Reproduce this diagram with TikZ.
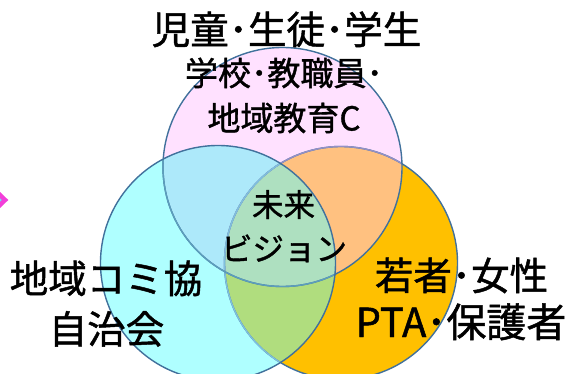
\documentclass[tikz,border=0pt]{standalone}
\usepackage{fontspec}
\setmainfont{Noto Sans CJK JP}[FakeBold=1.2]
\usetikzlibrary{shapes.geometric}
\definecolor{cTop}{HTML}{FFE1FF}
\definecolor{cLeft}{HTML}{AFFFFF}
\definecolor{cRight}{HTML}{FFC000}
\definecolor{cTL}{HTML}{ADE9FA}
\definecolor{cTR}{HTML}{FFC180}
\definecolor{cLR}{HTML}{B0DD7E}
\definecolor{cTri}{HTML}{AEE0C0}
\definecolor{cLine}{HTML}{41719C}
\definecolor{cLinePurp}{HTML}{9490C6}
\definecolor{cLineLB}{HTML}{7EC0DE}
\definecolor{cLineTeal}{HTML}{5C9EBC}
\definecolor{cMag}{HTML}{F23FD9}
\definecolor{cMarkIn}{HTML}{6FE3F0}
\tikzset{
  outline/.style={line width=1.4pt},
  biglbl/.style={inner sep=0pt, anchor=base, font=\fontsize{38.5}{46}\selectfont},
  midlbl/.style={inner sep=0pt, anchor=base, font=\fontsize{33}{40}\selectfont},
  ctrlbl/.style={inner sep=0pt, anchor=base, font=\fontsize{31.5}{38}\selectfont}
}
\def\topc{(282.5,167) circle[radius=119.5]}
\def\leftc{(218,263) circle[radius=117.5]}
\def\rightc{(341,263) circle[radius=116.5]}
\begin{document}
\begin{tikzpicture}[x=1pt,y=-1pt]
\useasboundingbox (0,0) rectangle (586,374);
% region fills
\fill[cTop] \topc;
\fill[cLeft] \leftc;
\fill[cRight] \rightc;
\begin{scope}\clip \topc; \fill[cTL] \leftc; \fill[cTR] \rightc; \end{scope}
\begin{scope}\clip \leftc; \fill[cLR] \rightc; \end{scope}
\begin{scope}\clip \topc; \clip \leftc; \fill[cTri] \rightc; \end{scope}
% outlines
\draw[outline, cLine] \rightc;
\begin{scope}\clip \topc; \draw[outline, cLinePurp] \rightc; \end{scope}
\begin{scope}\clip \leftc; \draw[outline, cLineLB] \rightc; \end{scope}
\draw[outline, cLine] \topc;
\begin{scope}\clip \leftc; \draw[outline, cLineTeal] \topc; \end{scope}
\draw[outline, cLine] \leftc;
% partial mark at left edge
\node[diamond, draw=cMag, fill=cMarkIn, line width=4.5pt, minimum width=28pt, minimum height=27pt, inner sep=0pt] (mark) at (-8,200) {};
% labels
\node[biglbl] (t1) at (286.5,44) {児童･生徒･学生};
\node[midlbl] (t2) at (284,85.5) {学校･教職員･};
\node[midlbl] (t3) at (284,130.5) {地域教育C};
\node[ctrlbl] (c1) at (283.5,216.5) {未来};
\node[ctrlbl] (c2) at (284,260.5) {ビジョン};
\node[biglbl] (l1) at (106,293) {地域コミ協};
\node[biglbl] (l2) at (106.5,343.5) {自治会};
\node[biglbl] (r1) at (461.5,290) {若者･女性};
\node[biglbl] (r2) at (461,337) {\fontsize{40}{46}\selectfont PTA･保護者};
\end{tikzpicture}
\end{document}
